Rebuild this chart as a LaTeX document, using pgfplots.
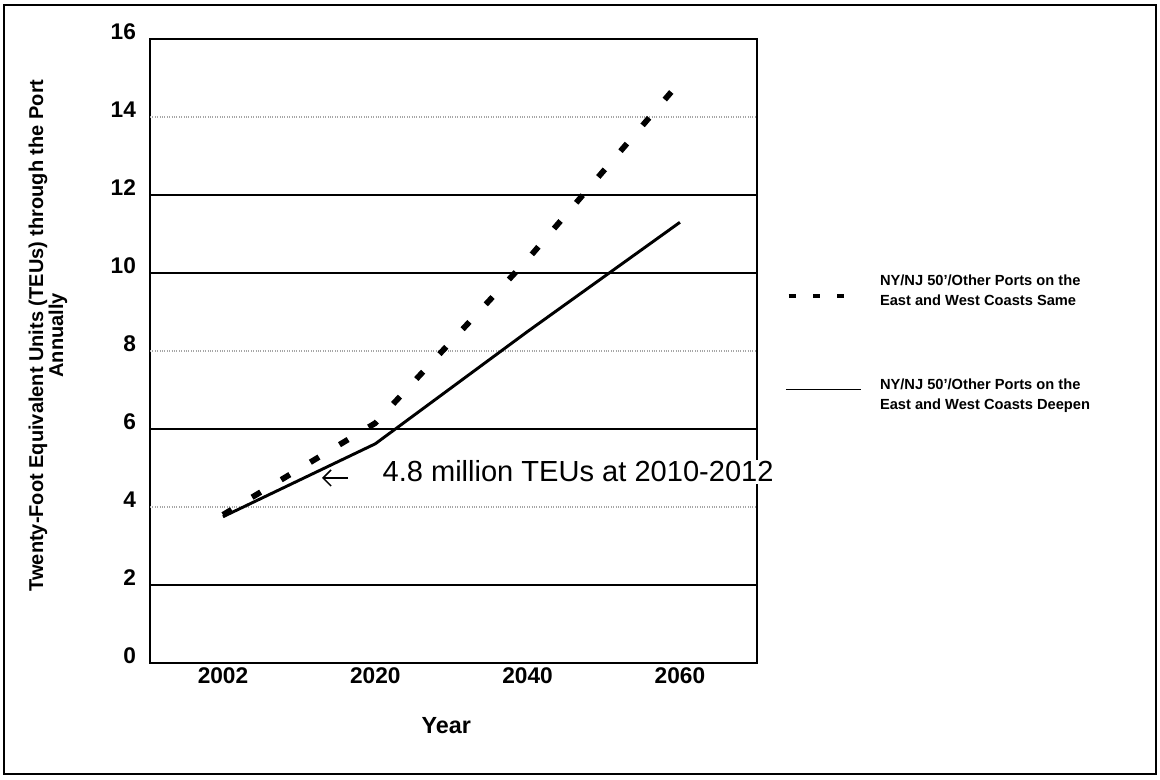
\documentclass[border=0pt]{standalone}
\usepackage{fontspec}
\setmainfont{Liberation Sans}
\usepackage{pgfplots}
\pgfplotsset{compat=1.18}
\usetikzlibrary{arrows.meta}
\begin{document}
\begin{tikzpicture}[x=0.75pt,y=0.75pt]
\useasboundingbox (0,0) rectangle (1160,780);
\draw[line width=1.1pt] (4,6) rectangle (1156,775);
\begin{axis}[
  at={(112.5pt,87.75pt)}, anchor=south west,
  scale only axis, width=455.25pt, height=468pt,
  xmin=-0.479, xmax=3.506, ymin=0, ymax=16,
  xtick={0,1,2,3}, xticklabels={2002,2020,2040,2060},
  ytick={0,2,6,10,12,16},
  extra y ticks={4,8,14},
  extra y tick style={ymajorgrids=true, major grid style={gray!70, densely dotted, line width=0.8pt}},
  ymajorgrids=true,
  major grid style={black, line width=0.8pt},
  major tick length=0pt,
  axis line style={line width=1.4pt},
  /pgf/number format/assume math mode=true,
  ticklabel style={font=\bfseries\fontsize{17}{19}\selectfont},
  yticklabel style={xshift=-7pt, yshift=5.5pt},
  xlabel={Year},
  xlabel style={font=\bfseries\fontsize{17.5}{19}\selectfont, at={(axis description cs:0.488,-0.101)}, anchor=center},
  ylabel={Twenty-Foot Equivalent Units (TEUs) through the Port\\Annually},
  ylabel style={font=\bfseries\fontsize{15}{15}\selectfont, align=center, at={(axis description cs:-0.168,0.525)}, anchor=center},
  legend style={at={(axis description cs:1.046,0.626)}, anchor=north west, draw=none, fill=none, inner sep=0pt, row sep=49pt,
    font=\bfseries\fontsize{11}{15}\selectfont, cells={align=left},
    /tikz/every odd column/.append style={column sep=12pt}},
  legend cell align=left,
]
\addplot[black, line width=4.3pt, dash pattern=on 7.5pt off 18pt,
  legend image code/.code={\draw[line width=3pt, dash pattern=on 5.3pt off 13pt] (0pt,-3pt) -- (52pt,-3pt);}]
  coordinates {(0,3.8) (1,6.15) (2,10.35) (3,14.9)};
\addlegendentry{NY/NJ 50'/Other Ports on the\\East and West Coasts Same}
\addplot[black, line width=2.2pt,
  legend image code/.code={\draw[line width=1.1pt] (-2pt,4pt) -- (54pt,4pt);}]
  coordinates {(0,3.75) (1,5.62) (2,8.5) (3,11.3)};
\addlegendentry{NY/NJ 50'/Other Ports on the\\East and West Coasts Deepen}
\end{axis}
\node[anchor=base west, inner sep=1pt, fill=white, font=\fontsize{21.8}{24}\selectfont] at (381,298) {4.8 million TEUs at 2010-2012};
\draw[line width=1.1pt, -{Straight Barb[length=6pt,width=12pt]}] (348,302) -- (322,302);
\end{tikzpicture}
\end{document}
